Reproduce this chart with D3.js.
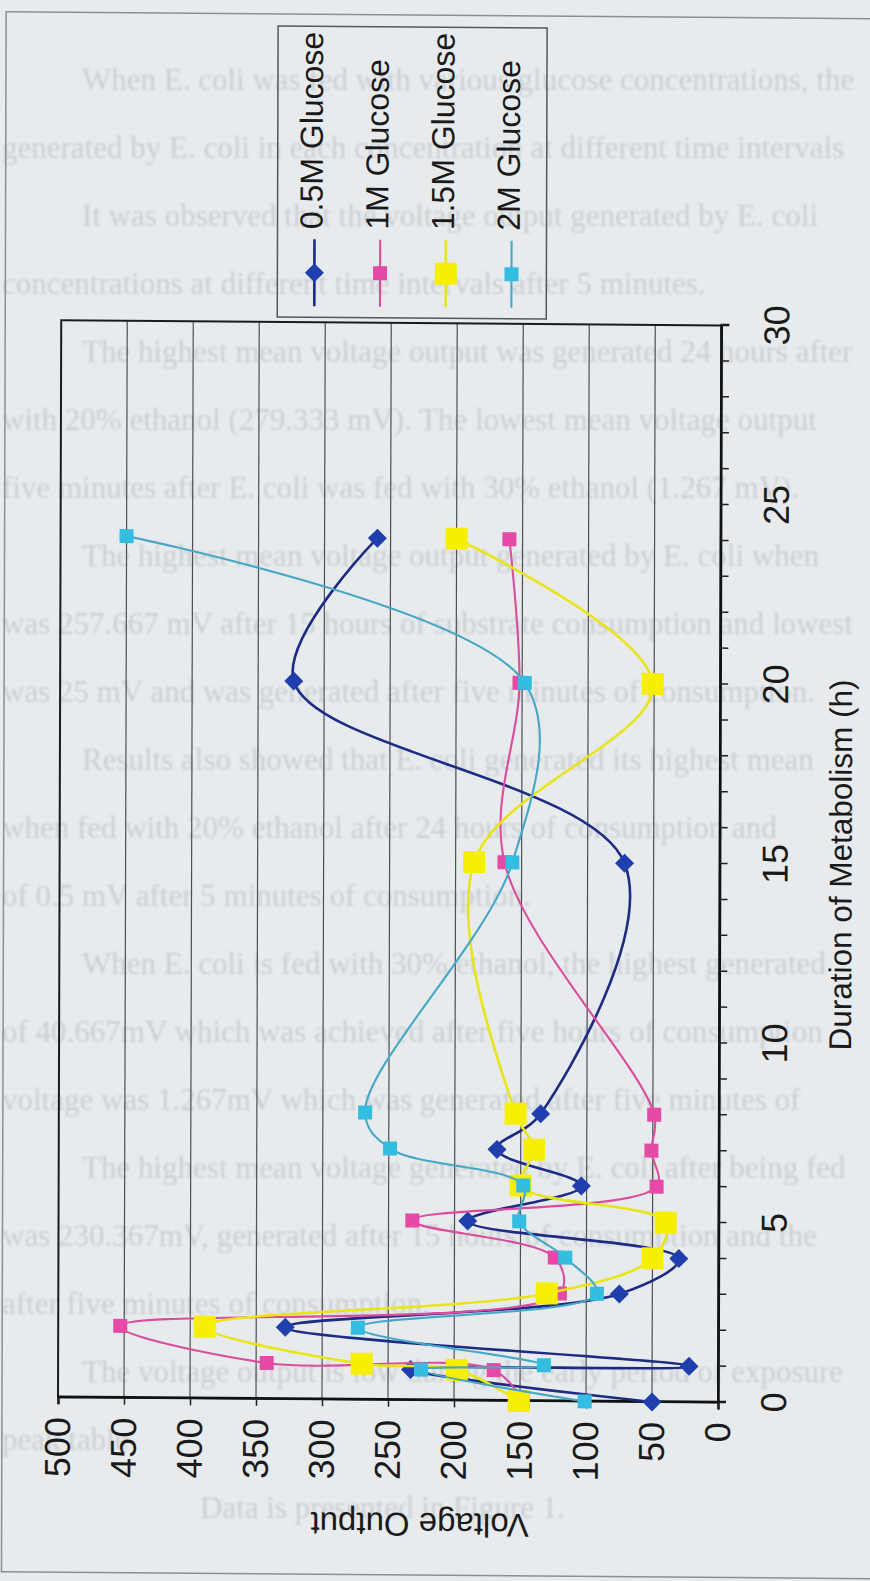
<!DOCTYPE html>
<html>
<head>
<meta charset="utf-8">
<script src="https://cdn.jsdelivr.net/npm/d3@7"></script>
<style>
html,body{margin:0;padding:0;background:#e8ebed;}
svg{display:block;}
</style>
</head>
<body>
<svg id="c" width="870" height="1581"></svg>
<script>
// ---- data ----
const hours = [0, 0.85, 1, 2, 3, 4, 5, 6, 7, 8, 15, 20, 24];
const glucose05 = [50, 233, 22, 328, 75, 30, 190, 104, 168, 135, 72, 323, 260];
const glucose1  = [148, 170, 342, 453, 120, 124, 232, 47, 51, 49, 163, 152, 160];
const glucose15 = [151, 198, 270, 389, 130, 50, 40, 150, 140, 154, 186, 51, 200];
const glucose2  = [101, 225, 132, 273, 92, 116, 151, 148, 249, 268, 157, 148, 450];
const seriesNames = ["0.5M Glucose", "1M Glucose", "1.5M Glucose", "2M Glucose"];
const hourTicks = [0, 5, 10, 15, 20, 25, 30];
const voltTicks = [0, 50, 100, 150, 200, 250, 300, 350, 400, 450, 500];
const xTitle = "Duration of Metabolism (h)";
const yTitle = "Voltage Output";

// faint text of the scanned page behind the chart
const pageLines = [
  "When E. coli was fed with various glucose concentrations, the voltage",
  "generated by E. coli in each concentration at different time intervals was recorded.",
  "It was observed that the voltage output generated by E. coli when fed with",
  "concentrations at different time intervals after 5 minutes.",
  "The highest mean voltage output was generated 24 hours after E. coli was fed",
  "with 20% ethanol (279.333 mV). The lowest mean voltage output generated was",
  "five minutes after E. coli was fed with 30% ethanol (1.267 mV).",
  "The highest mean voltage output generated by E. coli when fed with 20% ethanol",
  "was 257.667 mV after 15 hours of substrate consumption and lowest mean voltage",
  "was 25 mV and was generated after five minutes of consumption.",
  "Results also showed that E. coli generated its highest mean voltage",
  "when fed with 20% ethanol after 24 hours of consumption and lowest",
  "of 0.5 mV after 5 minutes of consumption.",
  "When E. coli is fed with 30% ethanol, the highest generated mean voltage",
  "of 40.667mV which was achieved after five hours of consumption and the lowest",
  "voltage was 1.267mV which was generated after five minutes of consumption.",
  "The highest mean voltage generated by E. coli after being fed with",
  "was 230.367mV, generated after 15 hours of consumption and the lowest",
  "after five minutes of consumption.",
  "The voltage output is low during the early period of exposure",
  "peak table",
  "Data is presented in Figure 1."
];
const paragraphStarts = [0, 2, 4, 7, 10, 13, 16, 19];

// ---- drawing ----
const svg = d3.select("#c");
const defs = svg.append("defs");
defs.append("filter").attr("id","blur").append("feGaussianBlur").attr("stdDeviation", 0.9);

svg.append("rect").attr("width",870).attr("height",1581).attr("fill","#e8ebed");

// background page text (fitted inside the page width)
const bg = svg.append("g").attr("filter","url(#blur)")
  .attr("font-family","'Liberation Serif','Times New Roman',serif")
  .attr("font-size",31).attr("fill","#4a4f55").attr("opacity",0.18);
pageLines.forEach((t,i)=>{
  const cy = 82 + i*68;
  let x = paragraphStarts.includes(i) ? 82 : 2;
  if (i === pageLines.length-1) x = 200;
  const el = bg.append("text").attr("x", x).attr("y", cy + 8).text(t);
  let words = t.split(" ");
  while (words.length > 1 && x + el.node().getComputedTextLength() > 864) {
    words.pop();
    el.text(words.join(" "));
  }
});

const W = 1077, H = 660;
const x = d3.scaleLinear().domain([0,30]).range([0,W]);
const y = d3.scaleLinear().domain([0,500]).range([H,0]);

// chart drawn in its natural orientation, then turned onto the page
const g = svg.append("g").attr("transform","matrix(0.003,-1,1,0.008,58,1397.2)");
const font = "'Liberation Sans',Arial,Helvetica,sans-serif";

// outer chart border
g.append("rect").attr("x",-175).attr("y",-56).attr("width",1560).attr("height",1000)
  .attr("fill","none").attr("stroke","#8c8f92").attr("stroke-width",1.5);

// gridlines
g.append("g").selectAll("line").data(voltTicks.filter(v=>v>0 && v<500)).join("line")
  .attr("x1",0).attr("x2",W).attr("y1",d=>y(d)).attr("y2",d=>y(d))
  .attr("stroke","#4d4f52").attr("stroke-width",1.2);

// plot frame
g.append("rect").attr("x",0).attr("y",0).attr("width",W).attr("height",H)
  .attr("fill","none").attr("stroke","#1b1b1b").attr("stroke-width",2);

// x axis (hours)
const xAxis = d3.axisBottom(x).tickValues(d3.range(0,31,1)).tickSize(8)
  .tickFormat(d => hourTicks.includes(d) ? d : "");
const gx = g.append("g").attr("transform",`translate(0,${H})`).call(xAxis);
gx.select(".domain").attr("stroke","#111").attr("stroke-width",2.5);
gx.selectAll(".tick line").attr("stroke","#222").attr("stroke-width",1.5);
gx.selectAll(".tick text").attr("font-family",font).attr("font-size",36)
  .attr("fill","#1a1a1a").attr("dy",0).attr("y",68);

// y axis (voltage)
const yAxis = d3.axisLeft(y).tickValues(voltTicks).tickSize(7).tickPadding(13);
const gy = g.append("g").call(yAxis);
gy.select(".domain").attr("stroke","#111").attr("stroke-width",2.5);
gy.selectAll(".tick line").attr("stroke","#222").attr("stroke-width",1.5);
gy.selectAll(".tick text").attr("font-family",font).attr("font-size",36)
  .attr("fill","#1a1a1a");

// axis titles
g.append("text").attr("x",W/2).attr("y",792).attr("text-anchor","middle")
  .attr("font-family",font).attr("font-size",31.5).attr("fill","#1a1a1a").text(xTitle);
g.append("text").attr("transform","translate(-113,362) rotate(-90)").attr("text-anchor","middle")
  .attr("font-family",font).attr("font-size",33).attr("fill","#1a1a1a").text(yTitle);

// series
const values = [glucose05, glucose1, glucose15, glucose2];
const lineColors = ["#1e2b84","#dc4c9c","#e9e415","#46a8c6"];
const markColors = ["#1f3fae","#e54aa6","#f7ef00","#33bde0"];
const lineWidths = [2.6, 2.1, 2.6, 2.1];
const shapes = ["diamond","square","bigsquare","square"];

function markerPath(shape){
  if (shape === "diamond") return "M0,-9.5L9.5,0L0,9.5L-9.5,0Z";
  if (shape === "bigsquare") return "M-11,-11H11V11H-11Z";
  return "M-7,-7H7V7H-7Z";
}

const line = d3.line().x(d=>x(d.h)).y(d=>y(d.v)).curve(d3.curveCatmullRom.alpha(0.5));

values.forEach((vals,i)=>{
  const pts = hours.map((h,k)=>({h, v: vals[k]}));
  const sg = g.append("g");
  sg.append("path").datum(pts).attr("d",line).attr("fill","none")
    .attr("stroke",lineColors[i]).attr("stroke-width",lineWidths[i]);
  sg.selectAll("path.m").data(pts).join("path").attr("class","m")
    .attr("transform",d=>`translate(${x(d.h)},${y(d.v)})`)
    .attr("d",markerPath(shapes[i])).attr("fill",markColors[i]);
});

// legend (to the right of the plot in the chart's own orientation)
const lg = g.append("g");
lg.append("rect").attr("x",1082).attr("y",216).attr("width",291).attr("height",269)
  .attr("fill","none").attr("stroke","#55585b").attr("stroke-width",1.5);
seriesNames.forEach((name,i)=>{
  const cy = 253 + i*65.7;
  const e = lg.append("g").attr("transform",`translate(0,${cy})`);
  e.append("line").attr("x1",1093).attr("x2",1160).attr("y1",0).attr("y2",0)
    .attr("stroke",lineColors[i]).attr("stroke-width",lineWidths[i]);
  e.append("path").attr("transform","translate(1126.5,0)").attr("d",markerPath(shapes[i]))
    .attr("fill",markColors[i]);
  e.append("text").attr("x",1170).attr("y",8).attr("font-family",font).attr("font-size",32)
    .attr("fill","#1a1a1a").text(name);
});
</script>
</body>
</html>
